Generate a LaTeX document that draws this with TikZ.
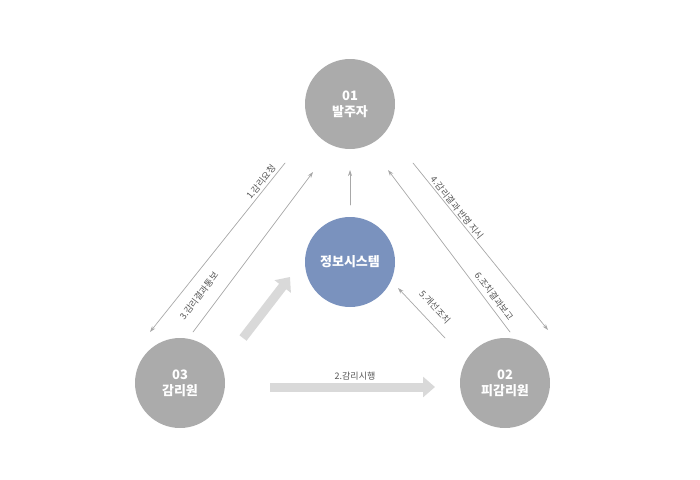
\documentclass[tikz,border=0pt]{standalone}
\usepackage{fontspec}
\setmainfont{Noto Sans CJK KR}
\usetikzlibrary{arrows.meta}
\definecolor{circgray}{HTML}{ABABAB}
\definecolor{sysblue}{HTML}{7A92BE}
\definecolor{linegray}{HTML}{A8A8A8}
\definecolor{bigarrow}{HTML}{D9D9D9}
\definecolor{txtgray}{HTML}{555555}
\begin{document}
\begin{tikzpicture}[x=1pt,y=-1pt,line cap=round,line join=round,
  party/.style={circle,fill=circgray,minimum size=90pt,inner sep=0pt,text=white,font=\bfseries\fontsize{13}{16}\selectfont,align=center},
  flow/.style={draw=linegray,line width=0.7pt,-{Stealth[length=6pt,width=4pt]}},
  wide/.style={draw=bigarrow,line width=9pt,line cap=butt,-{Triangle[length=12pt,width=20pt]}},
  lbl/.style={font=\fontsize{9}{10}\selectfont,text=txtgray,inner sep=1pt}]
\useasboundingbox (0,0) rectangle (700,479);
% circles
\node[party] (owner) at (350,104) {01\\발주자};
\node[party] (audit) at (180,383) {03\\감리원};
\node[party] (target) at (505,383) {02\\피감리원};
\node[party,fill=sysblue] (sys) at (350,262) {정보시스템};
% thin connectors
\coordinate (a1) at (285,163); \coordinate (b1) at (150,332);
\coordinate (a3) at (193,332); \coordinate (b3) at (313,172);
\coordinate (a4) at (413,163); \coordinate (b4) at (548,330);
\coordinate (a6) at (510,332); \coordinate (b6) at (388,170);
\coordinate (a5) at (445,338); \coordinate (b5) at (398,288);
\coordinate (a0) at (350,205); \coordinate (b0) at (350,170);
\draw[flow] (a1) -- (b1);
\draw[flow] (a3) -- (b3);
\draw[flow] (a4) -- (b4);
\draw[flow] (a6) -- (b6);
\draw[flow] (a5) -- (b5);
\draw[flow] (a0) -- (b0);
\node[lbl,rotate=51] (t1) at (261,182) {1.감리요청};
\node[lbl,rotate=53] (t3) at (199,296) {3.감리결과통보};
\node[lbl,rotate=-51] (t4) at (457,208) {4.감리결과 반영 지시};
\node[lbl,rotate=-53] (t6) at (494,296) {6.조치결과보고};
\node[lbl,rotate=-47] (t5) at (435,307) {5.개선조치};
% wide arrows
\coordinate (w1) at (243,338); \coordinate (w2) at (290,277);
\coordinate (w3) at (270,387); \coordinate (w4) at (435,387);
\draw[wide] (w1) -- (w2);
\draw[wide] (w3) -- (w4);
\node[lbl] (t2) at (355,376) {2.감리시행};
\end{tikzpicture}
\end{document}
